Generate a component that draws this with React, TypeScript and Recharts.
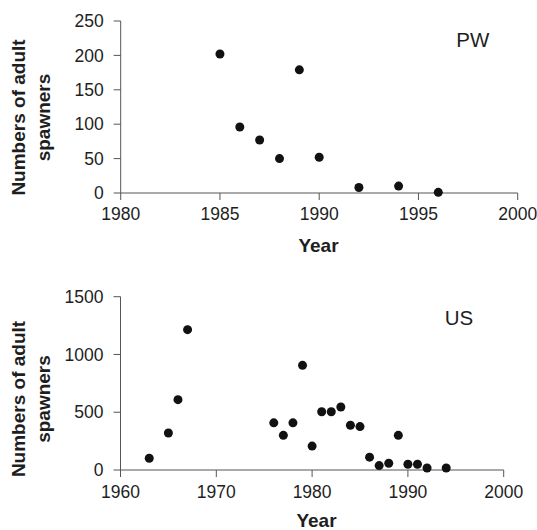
import React from "react";
import { ScatterChart, Scatter, XAxis, YAxis, Label } from "recharts";

const pwYears = [1985, 1986, 1987, 1988, 1989, 1990, 1992, 1994, 1996];
const pwCounts = [202, 96, 77, 50, 179, 52, 8, 10, 1];

const usYears = [1963, 1965, 1966, 1967, 1976, 1977, 1978, 1979, 1980, 1981, 1982, 1983, 1984, 1985, 1986, 1987, 1988, 1989, 1990, 1991, 1992, 1994];
const usCounts = [102, 320, 609, 1215, 408, 300, 408, 906, 207, 504, 504, 545, 387, 376, 111, 38, 58, 300, 50, 50, 17, 17];

const pwXTicks = [1980, 1985, 1990, 1995, 2000];
const pwYTicks = [0, 50, 100, 150, 200, 250];
const usXTicks = [1960, 1970, 1980, 1990, 2000];
const usYTicks = [0, 500, 1000, 1500];

const yLabelLines = ["Numbers of adult", "spawners"];
const xLabelText = "Year";

const FONT = "'Liberation Sans', Arial, Helvetica, sans-serif";
const AXIS = "#555";
const TEXT = "#1e1e1e";

const pwData = pwYears.map((y, i) => ({ x: y, y: pwCounts[i] }));
const usData = usYears.map((y, i) => ({ x: y, y: usCounts[i] }));

const dot = (p: any) => <circle cx={p.cx} cy={p.cy} r={4.5} fill="#111" />;

const tickStyle = { fontSize: 17.5, fill: TEXT, fontFamily: FONT };

function Overlay({ yCenter, xCenter, xBaseline, panel, panelX, panelY }: any) {
  return (
    <g fontFamily={FONT}>
      <text x={18.5} y={yCenter} transform={`rotate(-90, 18.5, ${yCenter})`} textAnchor="middle" dominantBaseline="central" fontSize={19} fontWeight="bold" fill={TEXT}>
        {yLabelLines[0]}
      </text>
      <text x={43.5} y={yCenter} transform={`rotate(-90, 43.5, ${yCenter})`} textAnchor="middle" dominantBaseline="central" fontSize={19} fontWeight="bold" fill={TEXT}>
        {yLabelLines[1]}
      </text>
      <text x={xCenter} y={xBaseline} textAnchor="middle" fontSize={19} fontWeight="bold" fill={TEXT}>
        {xLabelText}
      </text>
      <text x={panelX} y={panelY} textAnchor="middle" fontSize={20.5} fill={TEXT}>
        {panel}
      </text>
    </g>
  );
}

export default function App() {
  return (
    <div style={{ position: "absolute", left: 0, top: 0, width: 537, height: 530, background: "#fff" }}>
      <div style={{ position: "absolute", left: 0, top: 0 }}>
        <ScatterChart width={537} height={265} margin={{ top: 21, right: 19.3, left: 0, bottom: 0 }}>
          <XAxis
            type="number"
            dataKey="x"
            domain={[1980, 2000]}
            ticks={pwXTicks}
            height={72}
            tickSize={7}
            tickMargin={8}
            stroke={AXIS}
            tick={tickStyle}
            axisLine={{ stroke: AXIS }}
            tickLine={{ stroke: AXIS }}
            allowDataOverflow
          />
          <YAxis
            type="number"
            dataKey="y"
            domain={[0, 250]}
            ticks={pwYTicks}
            width={120.7}
            tickSize={7}
            tickMargin={10}
            stroke={AXIS}
            tick={tickStyle}
            axisLine={{ stroke: AXIS }}
            tickLine={{ stroke: AXIS }}
          >
            <Label
              content={() => (
                <Overlay yCenter={117.5} xCenter={318.5} xBaseline={252.3} panel="PW" panelX={472.8} panelY={46.7} />
              )}
            />
          </YAxis>
          <Scatter data={pwData} shape={dot} isAnimationActive={false} />
        </ScatterChart>
      </div>
      <div style={{ position: "absolute", left: 0, top: 265 }}>
        <ScatterChart width={537} height={265} margin={{ top: 31.7, right: 33.3, left: 0, bottom: 0 }}>
          <XAxis
            type="number"
            dataKey="x"
            domain={[1960, 2000]}
            ticks={usXTicks}
            height={60}
            tickSize={7}
            tickMargin={8.5}
            stroke={AXIS}
            tick={tickStyle}
            axisLine={{ stroke: AXIS }}
            tickLine={{ stroke: AXIS }}
          />
          <YAxis
            type="number"
            dataKey="y"
            domain={[0, 1500]}
            ticks={usYTicks}
            width={120.5}
            tickSize={7}
            tickMargin={10}
            stroke={AXIS}
            tick={tickStyle}
            axisLine={{ stroke: AXIS }}
            tickLine={{ stroke: AXIS }}
          >
            <Label
              content={() => (
                <Overlay yCenter={134} xCenter={316.5} xBaseline={261.7} panel="US" panelX={459} panelY={60} />
              )}
            />
          </YAxis>
          <Scatter data={usData} shape={dot} isAnimationActive={false} />
        </ScatterChart>
      </div>
    </div>
  );
}
